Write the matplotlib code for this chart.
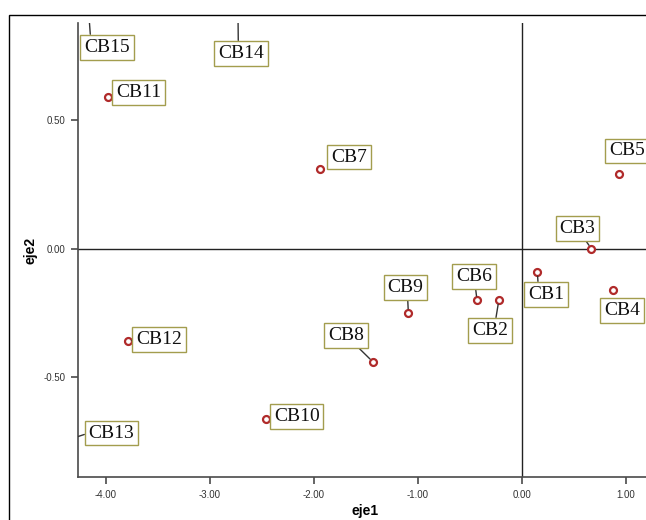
import matplotlib
matplotlib.use("Agg")
import matplotlib.pyplot as plt
from matplotlib.patches import Rectangle

# Case labels and their coordinates on the two dimensions
labels = ["CB1", "CB2", "CB3", "CB4", "CB5", "CB6", "CB7", "CB8",
          "CB9", "CB10", "CB11", "CB12", "CB13", "CB14", "CB15"]
eje1 = [0.15, -0.22, 0.67, 0.88, 0.94, -0.43, -1.94, -1.43,
        -1.09, -2.46, -3.98, -3.79, -4.42, -2.73, -4.17]
eje2 = [-0.09, -0.20, 0.00, -0.16, 0.29, -0.20, 0.31, -0.44,
        -0.25, -0.66, 0.59, -0.36, -0.75, 0.97, 0.95]

# Label box placement (data coordinates), leader line on/off and
# where on the box the leader line starts (fraction of box width/height)
label_x = [0.234, -0.302, 0.535, 0.967, 1.01, -0.457, -1.663, -1.687,
           -1.119, -2.164, -3.682, -3.486, -3.944, -2.699, -3.99]
label_y = [-0.177, -0.317, 0.078, -0.240, 0.380, -0.109, 0.356, -0.338,
           -0.152, -0.651, 0.608, -0.352, -0.716, 0.759, 0.783]
leader = [True, True, True, False, False, True, False, True,
          True, False, False, True, True, True, True]
leader_rel = [(0.3, 0.5), (0.6, 0.5), (0.5, 0.5), (0.5, 0.5), (0.5, 0.5),
              (0.5, 0.5), (0.5, 0.5), (0.5, 0.5), (0.55, 0.5), (0.5, 0.5),
              (0.5, 0.5), (0.0, 0.5), (0.0, 0.5), (0.44, 1.0), (0.145, 1.0)]

W, H, DPI = 646, 520, 100
fig = plt.figure(figsize=(W / DPI, H / DPI), dpi=DPI)
fig.patch.set_facecolor("white")

# outer frame around the chart
fig.patches.append(Rectangle((9 / W, -0.1), 2.0, 1 - 15 / H + 0.1,
                             transform=fig.transFigure, fill=False,
                             edgecolor="black", linewidth=1.0))

left, right = 77.7 / W, 652 / W
bottom, top = 1 - 477.3 / H, 1 - 22.7 / H
ax = fig.add_axes([left, bottom, right - left, top - bottom])
ax.set_xlim(-4.27, 1.253)
ax.set_ylim(-0.888, 0.878)

for s in ("top", "right"):
    ax.spines[s].set_visible(False)
for s in ("left", "bottom"):
    ax.spines[s].set_color("#4a4a4a")
    ax.spines[s].set_linewidth(1.2)

ax.axhline(0, color="#222222", lw=1.0, zorder=1)
ax.axvline(0, color="#222222", lw=1.0, zorder=1)

ax.set_xticks([-4, -3, -2, -1, 0, 1])
ax.set_yticks([-0.5, 0.0, 0.5])
ax.xaxis.set_major_formatter(matplotlib.ticker.FormatStrFormatter("%.2f"))
ax.yaxis.set_major_formatter(matplotlib.ticker.FormatStrFormatter("%.2f"))
ax.tick_params(direction="out", length=5, width=1.2, color="#4a4a4a",
               labelsize=7, labelcolor="#333333", pad=4)
for t in ax.get_xticklabels() + ax.get_yticklabels():
    t.set_fontfamily("Liberation Sans")

ax.set_xlabel("eje1", fontsize=10, fontweight="bold",
              fontfamily="Liberation Sans", labelpad=3)
ax.set_ylabel("eje2", fontsize=10, fontweight="bold",
              fontfamily="Liberation Sans", labelpad=4)

ax.plot(eje1, eje2, linestyle="none", marker="o", markersize=5,
        markerfacecolor="white", markeredgecolor="#b02a2a",
        markeredgewidth=1.6, zorder=3)

for lab, x, y, lx, ly, ld, rel in zip(labels, eje1, eje2, label_x, label_y,
                                      leader, leader_rel):
    ann = ax.annotate(
        lab, xy=(x, y), xytext=(lx, ly), textcoords="data",
        ha="center", va="center", fontsize=14,
        fontfamily="Liberation Serif", color="#111111",
        annotation_clip=False, zorder=4,
        bbox=dict(boxstyle="square,pad=0.2", facecolor="white",
                  edgecolor="#a39d4e", linewidth=1.0),
        arrowprops=(dict(arrowstyle="-", color="#333333", lw=1.0,
                         shrinkA=0, shrinkB=3, relpos=rel) if ld else None),
    )
    if ann.arrow_patch is not None:
        ann.arrow_patch.set_clip_box(ax.bbox)
        ann.arrow_patch.set_clip_on(True)

fig.savefig("out.png", dpi=DPI)
